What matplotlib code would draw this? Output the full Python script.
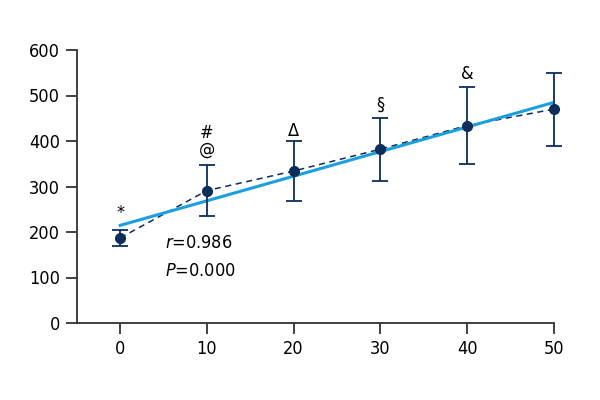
import numpy as np
import matplotlib.pyplot as plt

plt.rcParams['font.family'] = ['DejaVu Sans']
plt.rcParams['font.stretch'] = 'condensed'

# values
dose = [0, 10, 20, 30, 40, 50]
mean = [187, 291, 334, 382, 434, 470]
err = [18, 56, 65, 69, 84, 80]
marks = ['*', '#\n@', 'Δ', '§', '&', '']
mark_y = [222, 362, 402, 459, 527, 0]

navy = '#0d2d5a'
blue = '#1a9fe0'

fig = plt.figure(figsize=(6, 4), dpi=100)
ax = fig.add_axes([0.128, 0.1925, 0.795, 0.6825])

ax.plot(dose, mean, '--', color=navy, lw=1.1, dashes=(4, 3), zorder=2)
k, b = np.polyfit(dose, mean, 1)
xs = np.array([dose[0], dose[-1]])
ax.plot(xs, k * xs + b, color=blue, lw=2.2, zorder=3)
eb = ax.errorbar(dose, mean, yerr=err, fmt='o', color=navy, ms=7, elinewidth=1.3,
                 capsize=6, capthick=1.3, zorder=4)
for art in eb.lines[1] + eb.lines[2]:
    art.set_clip_on(False)
eb.lines[0].set_clip_on(False)

for x, y, m in zip(dose, mark_y, marks):
    if m:
        ax.text(x, y, m, ha='center', va='bottom', fontsize=13, linespacing=0.9)

ax.text(5.2, 157, '$r$=0.986', fontsize=13, va='bottom')
ax.text(5.2, 95, '$P$=0.000', fontsize=13, va='bottom')

ax.set_xlim(-5, 50)
ax.set_ylim(0, 600)
ax.set_xticks(dose)
ax.set_yticks(range(0, 601, 100))
for s in ['top', 'right']:
    ax.spines[s].set_visible(False)
for s in ['left', 'bottom']:
    ax.spines[s].set_color('#333333')
    ax.spines[s].set_linewidth(1.3)
ax.tick_params(length=8, width=1.3, color='#333333', labelsize=13, pad=4)

plt.savefig('out.png', dpi=100)
